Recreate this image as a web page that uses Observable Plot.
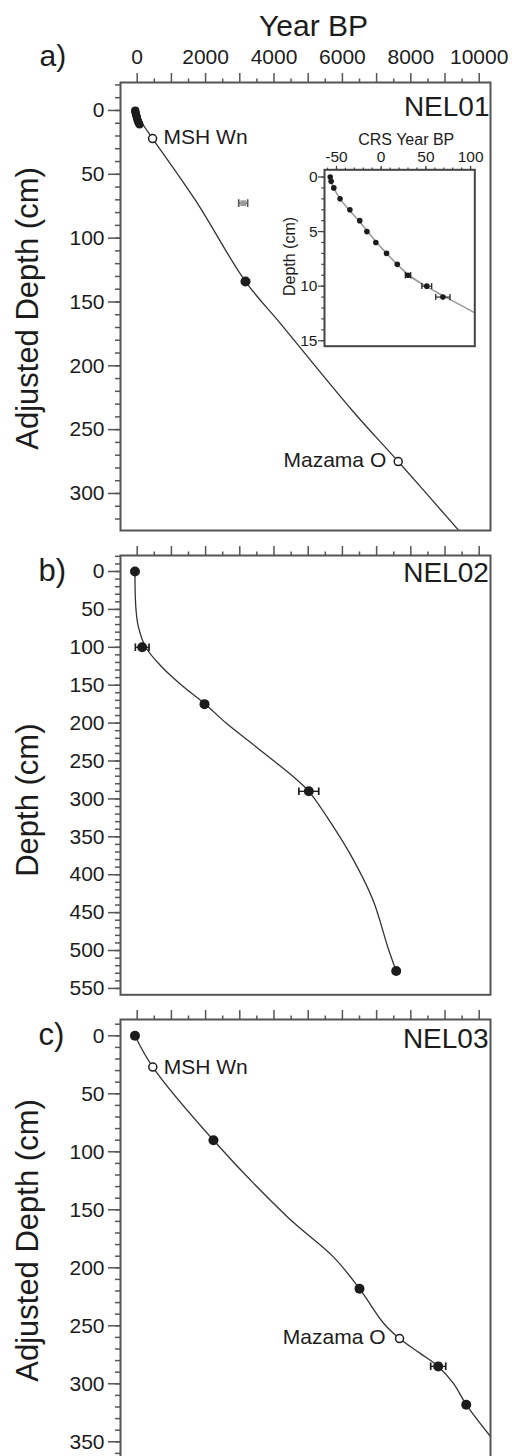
<!DOCTYPE html>
<html><head><meta charset="utf-8">
<script src="https://cdn.jsdelivr.net/npm/d3@7"></script>
<script src="https://cdn.jsdelivr.net/npm/@observablehq/plot@0.6"></script>
<style>
html,body{margin:0;padding:0;background:#fff;overflow:hidden;}
#wrap{position:relative;width:512px;height:1456px;overflow:hidden;background:#fff;}
.panel{position:absolute;left:0;}
.panel svg{overflow:visible;}
</style></head><body><div id="wrap"></div>
<script>
// ---------- shared axis data ----------
const yearDomain = [-488, 10330];
const yearMajorTicks = [0,1000,2000,3000,4000,5000,6000,7000,8000,9000,10000];
const yearMinorTicks = [500,1500,2500,3500,4500,5500,6500,7500,8500,9500];
const yearTickLabels = [0,2000,4000,6000,8000,10000];

// ---------- Panel a: NEL01 ----------
const nel01CrsYear  = [-57,-56,-53,-46,-35,-24,-16,-6,6,18,30,51,69];
const nel01CrsDepth = [0,0.4,1,2,3,4,5,6,7,8,9,10,11];
const nel01CrsErr   = [0,0,0,0,0,0,0,0,0,0,3,5.5,8];
const nel01C14Year  = [3167];
const nel01C14Depth = [134];
const nel01C14Err   = [70];
const nel01OutlierYear  = [3099];
const nel01OutlierDepth = [72.6];
const nel01OutlierErr   = [130];
const nel01TephraName  = ["MSH Wn","Mazama O"];
const nel01TephraYear  = [450, 7632];
const nel01TephraDepth = [22, 275];
const nel01ModelYear  = [-57,146,450,1706,3167,4190,6287,7632,9404,9600];
const nel01ModelDepth = [0,10,22,70.5,134,167,235,275,329,335];
const depthTicksA = [0,50,100,150,200,250,300];

// inset (CRS model)
const insetModelYear  = [-58,-53,-46,-36,-25,-15,-5,6,18,31,50,72,104.7,115];
const insetModelDepth = [0,1,2,3,4,5,6,7,8,9,10,11,12.45,13];
const insetYearTicks = [-50,0,50,100];
const insetDepthTicks = [0,5,10,15];

// ---------- Panel b: NEL02 ----------
const nel02Year  = [-65,146,1968,5018,7573];
const nel02Depth = [0,100,175,290,527];
const nel02Err   = [0,200,0,290,0];
const nel02ModelYear  = [-65,-60,-35,30,250,700,1300,1968,2600,3300,4000,4600,5018,5640,6330,6900,7330,7573];
const nel02ModelDepth = [0,25,50,72,100,125,150,174,200,225,250,272,290,330,381,434,496,527];
const depthTicksB = [0,50,100,150,200,250,300,350,400,450,500,550];

// ---------- Panel c: NEL03 ----------
const nel03Year  = [-65,2230,6500,8801,9620];
const nel03Depth = [0,90,218,285,318];
const nel03Err   = [0,0,60,220,0];
const nel03TephraName  = ["MSH Wn","Mazama O"];
const nel03TephraYear  = [456, 7670];
const nel03TephraDepth = [27, 261];
const nel03ModelYear  = [-65,456,2230,4386,5749,6500,7211,7670,8284,8801,9257,9620,10427];
const nel03ModelDepth = [0,27,90,156,191,218,248,261,274,285,300,318,349];
const depthTicksC = [0,50,100,150,200,250,300,350];

// ---------- helpers ----------
const FONT = "'Liberation Sans', Arial, Helvetica, sans-serif";
const INK = "#1c1c1c", FRAME = "#555", CURVE = "#333";
const zip = (xs, ys, extra = {}) => xs.map((x, i) => {
  const o = {x, y: ys[i]};
  for (const k in extra) o[k] = extra[k][i];
  return o;
});
const range = (a, b, s) => d3.range(a, b + 1e-9, s);
// single label placed relative to the frame; baseline-ish centering is explicit
const label = (t, o) => Plot.text([t], {text: d => d, textAnchor: "middle", lineAnchor: "middle", fill: INK, ...o});

function xTopAxis(labels) {
  const m = [
    Plot.axisX(yearMajorTicks, {anchor: "top", tickSize: 10, stroke: FRAME, strokeWidth: 1.5, fill: "none", label: null}),
    Plot.axisX(yearMinorTicks, {anchor: "top", tickSize: 4.5, stroke: FRAME, strokeWidth: 1.5, fill: "none", label: null})
  ];
  if (labels) m.push(Plot.text(yearTickLabels, {x: d => d, text: d => String(d), frameAnchor: "top", lineAnchor: "middle", textAnchor: "middle", dy: -25.7, fontSize: 21, fill: INK}));
  return m;
}
function yLeftAxis(major, minor) {
  return [
    Plot.axisY(minor, {anchor: "left", tickSize: 5, stroke: FRAME, strokeWidth: 1.5, fill: "none", label: null}),
    Plot.axisY(major, {anchor: "left", tickSize: 12, stroke: FRAME, strokeWidth: 1.5, fill: "none", label: null}),
    Plot.text(major, {y: d => d, text: d => String(d), frameAnchor: "left", lineAnchor: "middle", textAnchor: "end", dx: -16, fontSize: 21, fill: INK})
  ];
}
function errBars(rows, color, sw) {
  const r = rows.filter(d => d.e > 0);
  return Plot.link(r, {x1: d => d.x - d.e, x2: d => d.x + d.e, y1: "y", y2: "y", stroke: color, strokeWidth: sw, markerStart: "tick", markerEnd: "tick"});
}
function addPanel(svg, top) {
  const div = document.createElement("div");
  div.className = "panel";
  div.style.top = top + "px";
  div.appendChild(svg);
  document.getElementById("wrap").appendChild(div);
  return div;
}
const baseStyle = {fontFamily: FONT, background: "transparent", overflow: "visible", color: INK};

// ---------- Panel a ----------
const aCrs = zip(nel01CrsYear, nel01CrsDepth, {e: nel01CrsErr});
const aC14 = zip(nel01C14Year, nel01C14Depth, {e: nel01C14Err});
const aOut = zip(nel01OutlierYear, nel01OutlierDepth, {e: nel01OutlierErr});
const aTeph = zip(nel01TephraYear, nel01TephraDepth, {name: nel01TephraName});
const aModel = zip(nel01ModelYear, nel01ModelDepth);

const plotA = Plot.plot({
  width: 512, height: 540,
  marginLeft: 120, marginRight: 22, marginTop: 82, marginBottom: 10,
  style: baseStyle,
  x: {domain: yearDomain, axis: null},
  y: {domain: [-21.9, 329.0], reverse: true, axis: null},
  marks: [
    ...xTopAxis(true),
    ...yLeftAxis(depthTicksA, range(-20, 320, 10)),
    Plot.line(aModel, {x: "x", y: "y", curve: "catmull-rom", stroke: CURVE, strokeWidth: 1.3, clip: true}),
    errBars(aOut, "#555", 1.3),
    Plot.dot(aOut, {x: "x", y: "y", symbol: "square", r: 3.2, fill: "#9a9a9a"}),
    errBars(aC14, INK, 1.3),
    Plot.dot(aC14, {x: "x", y: "y", r: 5, fill: INK}),
    Plot.dot(aCrs, {x: "x", y: "y", r: 4, fill: INK}),
    Plot.dot(aTeph, {x: "x", y: "y", r: 4, fill: "white", stroke: INK, strokeWidth: 1.5}),
    Plot.text(aTeph.filter(d => d.name === "MSH Wn"), {x: "x", y: "y", text: "name", textAnchor: "start", lineAnchor: "middle", dx: 11, dy: -1, fontSize: 21, fill: INK}),
    Plot.text(aTeph.filter(d => d.name === "Mazama O"), {x: "x", y: "y", text: "name", textAnchor: "end", lineAnchor: "middle", dx: -12, dy: -1, fontSize: 21, fill: INK}),
    label("Year BP", {frameAnchor: "top", dx: 8, dy: -56.6, fontSize: 30}),
    label("a)", {frameAnchor: "top-left", textAnchor: "start", dx: -81, dy: -26.6, fontSize: 30}),
    label("NEL01", {frameAnchor: "top-right", textAnchor: "end", dx: -1, dy: 25, fontSize: 28}),
    label("Adjusted Depth (cm)", {frameAnchor: "left", rotate: -90, dx: -92, dy: 2, fontSize: 31}),
    Plot.frame({stroke: FRAME, strokeWidth: 2})
  ]
});
addPanel(plotA, 0);

// ---------- Inset ----------
const iCrs = zip(nel01CrsYear, nel01CrsDepth, {e: nel01CrsErr});
const iModel = zip(insetModelYear, insetModelDepth);
const plotInset = Plot.plot({
  width: 200, height: 230,
  marginLeft: 44, marginRight: 5.7, marginTop: 44.3, marginBottom: 9.3,
  style: baseStyle,
  x: {domain: [-63.4, 104.7], axis: null},
  y: {domain: [-0.66, 15.5], reverse: true, axis: null},
  marks: [
    Plot.axisX(range(-60, 100, 10), {anchor: "top", tickSize: 2.7, stroke: "#444", strokeWidth: 1.2, fill: "none", label: null}),
    Plot.axisX(insetYearTicks, {anchor: "top", tickSize: 4.5, stroke: "#444", strokeWidth: 1.2, fill: "none", label: null}),
    Plot.text(insetYearTicks, {x: d => d, text: d => String(d), frameAnchor: "top", lineAnchor: "middle", textAnchor: "middle", dy: -12.6, fontSize: 15.5, fill: INK}),
    Plot.axisY(range(0, 15, 1), {anchor: "left", tickSize: 2.7, stroke: "#444", strokeWidth: 1.2, fill: "none", label: null}),
    Plot.axisY(insetDepthTicks, {anchor: "left", tickSize: 6, stroke: "#444", strokeWidth: 1.2, fill: "none", label: null}),
    Plot.text(insetDepthTicks, {y: d => d, text: d => String(d), frameAnchor: "left", lineAnchor: "middle", textAnchor: "end", dx: -7, fontSize: 15.5, fill: INK}),
    Plot.line(iModel, {x: "x", y: "y", curve: "catmull-rom", stroke: "#9a9a9a", strokeWidth: 1.6, clip: true}),
    errBars(iCrs, INK, 1.1),
    Plot.dot(iCrs, {x: "x", y: "y", r: 2.8, fill: INK}),
    label("CRS Year BP", {frameAnchor: "top", dx: 6.6, dy: -30.4, fontSize: 16}),
    label("Depth (cm)", {frameAnchor: "left", rotate: -90, dx: -34.6, dy: -1.5, fontSize: 16}),
    Plot.frame({stroke: "#444", strokeWidth: 2})
  ]
});
const insetDiv = addPanel(plotInset, 125);
insetDiv.style.left = "280px";

// ---------- Panel b ----------
const bPts = zip(nel02Year, nel02Depth, {e: nel02Err});
const bModel = zip(nel02ModelYear, nel02ModelDepth);
const plotB = Plot.plot({
  width: 512, height: 460,
  marginLeft: 120, marginRight: 22, marginTop: 15, marginBottom: 5.7,
  style: baseStyle,
  x: {domain: yearDomain, axis: null},
  y: {domain: [-21.1, 558.4], reverse: true, axis: null},
  marks: [
    ...xTopAxis(false),
    ...yLeftAxis(depthTicksB, range(-20, 550, 10)),
    Plot.line(bModel, {x: "x", y: "y", curve: "catmull-rom", stroke: CURVE, strokeWidth: 1.3, clip: true}),
    errBars(bPts, INK, 1.3),
    Plot.dot(bPts, {x: "x", y: "y", r: 5, fill: INK}),
    label("b)", {frameAnchor: "top-left", textAnchor: "start", dx: -82, dy: 15.1, fontSize: 31}),
    label("NEL02", {frameAnchor: "top-right", textAnchor: "end", dx: -1.7, dy: 17.7, fontSize: 28}),
    label("Depth (cm)", {frameAnchor: "left", rotate: -90, dx: -92, dy: 25, fontSize: 31}),
    Plot.frame({stroke: FRAME, strokeWidth: 2})
  ]
});
addPanel(plotB, 540);

// ---------- Panel c ----------
const cPts = zip(nel03Year, nel03Depth, {e: nel03Err});
const cTeph = zip(nel03TephraYear, nel03TephraDepth, {name: nel03TephraName});
const cModel = zip(nel03ModelYear, nel03ModelDepth);
const plotC = Plot.plot({
  width: 512, height: 480,
  marginLeft: 120, marginRight: 22, marginTop: 19, marginBottom: 10,
  style: baseStyle,
  x: {domain: yearDomain, axis: null},
  y: {domain: [-14.05, 374.75], reverse: true, axis: null},
  marks: [
    ...xTopAxis(false),
    ...yLeftAxis(depthTicksC, range(-10, 370, 10)),
    Plot.line(cModel, {x: "x", y: "y", curve: "catmull-rom", stroke: CURVE, strokeWidth: 1.3, clip: true}),
    errBars(cPts, INK, 1.3),
    Plot.dot(cPts, {x: "x", y: "y", r: 5, fill: INK}),
    Plot.dot(cTeph, {x: "x", y: "y", r: 4, fill: "white", stroke: INK, strokeWidth: 1.5}),
    Plot.text(cTeph.filter(d => d.name === "MSH Wn"), {x: "x", y: "y", text: "name", textAnchor: "start", lineAnchor: "middle", dx: 11, dy: 0, fontSize: 21, fill: INK}),
    Plot.text(cTeph.filter(d => d.name === "Mazama O"), {x: "x", y: "y", text: "name", textAnchor: "end", lineAnchor: "middle", dx: -14, dy: -1, fontSize: 21, fill: INK}),
    label("c)", {frameAnchor: "top-left", textAnchor: "start", dx: -82, dy: 16, fontSize: 31}),
    label("NEL03", {frameAnchor: "top-right", textAnchor: "end", dx: -2, dy: 20, fontSize: 28}),
    label("Adjusted Depth (cm)", {frameAnchor: "left", rotate: -90, dx: -92, dy: -4.5, fontSize: 31}),
    Plot.frame({stroke: FRAME, strokeWidth: 2})
  ]
});
addPanel(plotC, 1000);
</script></body></html>
